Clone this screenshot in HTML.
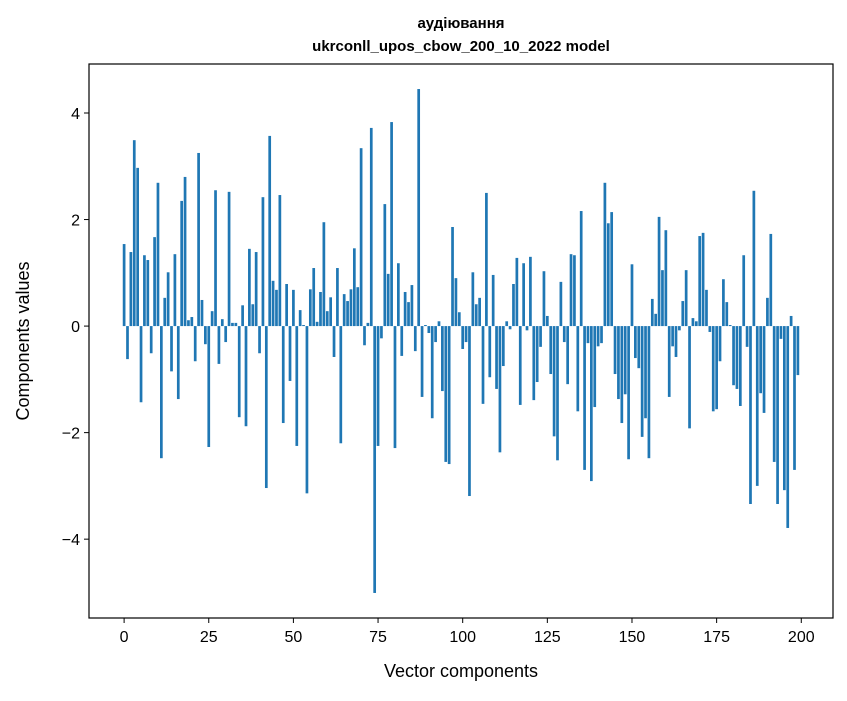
<!DOCTYPE html>
<html><head><meta charset="utf-8"><style>
body{margin:0;background:#fff;font-family:"Liberation Sans","DejaVu Sans",sans-serif;}
svg text{font-family:"Liberation Sans","DejaVu Sans",sans-serif;}
</style></head><body>
<svg width="847" height="696" viewBox="0 0 847 696" xmlns="http://www.w3.org/2000/svg">
<rect width="847" height="696" fill="#fff"/>
<text x="461" y="28" text-anchor="middle" font-size="15" font-weight="bold">аудіювання</text>
<text x="461" y="51" text-anchor="middle" font-size="15" font-weight="bold">ukrconll_upos_cbow_200_10_2022 model</text>
<g id="bars"></g>
<g id="axes"></g>
<text x="461" y="677" text-anchor="middle" font-size="18">Vector components</text>
<text transform="translate(29,341) rotate(-90)" text-anchor="middle" font-size="18">Components values</text>
</svg>
<script>
const values = [1.54,-0.62,1.39,3.49,2.97,-1.43,1.33,1.24,-0.51,1.67,2.69,-2.48,0.53,1.01,-0.85,1.35,-1.37,2.35,2.80,0.11,0.17,-0.66,3.25,0.49,-0.34,-2.27,0.28,2.55,-0.71,0.13,-0.30,2.52,0.06,0.06,-1.71,0.39,-1.88,1.45,0.41,1.39,-0.51,2.42,-3.04,3.57,0.85,0.68,2.46,-1.82,0.79,-1.03,0.68,-2.25,0.30,0.02,-3.14,0.69,1.09,0.08,0.64,1.95,0.28,0.54,-0.58,1.09,-2.20,0.60,0.47,0.69,1.46,0.73,3.34,-0.36,0.06,3.72,-5.01,-2.25,-0.23,2.29,0.98,3.83,-2.29,1.18,-0.56,0.64,0.45,0.77,-0.47,4.45,-1.33,0.02,-0.13,-1.73,-0.30,0.09,-1.22,-2.55,-2.59,1.86,0.90,0.26,-0.43,-0.30,-3.19,1.01,0.41,0.53,-1.46,2.50,-0.96,0.96,-1.18,-2.37,-0.75,0.09,-0.06,0.79,1.28,-1.48,1.18,-0.08,1.30,-1.39,-1.05,-0.39,1.03,0.19,-0.90,-2.07,-2.52,0.83,-0.30,-1.09,1.35,1.33,-1.60,2.16,-2.70,-0.32,-2.91,-1.52,-0.38,-0.32,2.69,1.93,2.14,-0.90,-1.37,-1.82,-1.28,-2.50,1.16,-0.60,-0.79,-2.08,-1.73,-2.48,0.51,0.23,2.05,1.05,1.80,-1.33,-0.38,-0.58,-0.08,0.47,1.05,-1.92,0.15,0.09,1.69,1.75,0.68,-0.11,-1.60,-1.56,-0.66,0.88,0.45,0.02,-1.11,-1.18,-1.50,1.33,-0.39,-3.34,2.54,-3.00,-1.26,-1.63,0.53,1.73,-2.55,-3.34,-0.24,-3.08,-3.79,0.19,-2.70,-0.92];
const xTicks = [0,25,50,75,100,125,150,175,200];
const yTicks = [-4,-2,0,2,4];
const yTickLabels = ["\u22124","\u22122","0","2","4"];
const L=89,R=833,T=64,B=618;
const xMin=-10.37,xMax=209.37,yMin=-5.48,yMax=4.92;
const xs=v=>L+(v-xMin)/(xMax-xMin)*(R-L);
const ys=v=>B-(v-yMin)/(yMax-yMin)*(B-T);
const NS="http://www.w3.org/2000/svg";
const bars=document.getElementById('bars');
const bw=xs(0.8)-xs(0);
values.forEach((v,i)=>{
  const r=document.createElementNS(NS,'rect');
  const y0=ys(Math.max(v,0)), y1=ys(Math.min(v,0));
  r.setAttribute('x',xs(i)-bw/2);
  r.setAttribute('y',y0);
  r.setAttribute('width',bw);
  r.setAttribute('height',Math.max(y1-y0,0.3));
  r.setAttribute('fill','#1f77b4');
  
  
  bars.appendChild(r);
});
const ax=document.getElementById('axes');
const fr=document.createElementNS(NS,'rect');
fr.setAttribute('x',L);fr.setAttribute('y',T);fr.setAttribute('width',R-L);fr.setAttribute('height',B-T);
fr.setAttribute('fill','none');fr.setAttribute('stroke','#000');fr.setAttribute('stroke-width','1.2');


ax.appendChild(fr);
xTicks.forEach(t=>{
  const x=xs(t);
  const l=document.createElementNS(NS,'line');
  l.setAttribute('x1',x);l.setAttribute('x2',x);l.setAttribute('y1',B);l.setAttribute('y2',B+5);l.setAttribute('stroke','#000');
  
  
  ax.appendChild(l);
  const tx=document.createElementNS(NS,'text');
  tx.setAttribute('x',x);tx.setAttribute('y',B+24);tx.setAttribute('text-anchor','middle');tx.setAttribute('font-size','16');
  tx.textContent=t;
  
  
  ax.appendChild(tx);
});
yTicks.forEach((t,i)=>{
  const y=ys(t);
  const l=document.createElementNS(NS,'line');
  l.setAttribute('x1',L-5);l.setAttribute('x2',L);l.setAttribute('y1',y);l.setAttribute('y2',y);l.setAttribute('stroke','#000');
  
  
  ax.appendChild(l);
  const tx=document.createElementNS(NS,'text');
  tx.setAttribute('x',L-9);tx.setAttribute('y',y+6);tx.setAttribute('text-anchor','end');tx.setAttribute('font-size','16');
  tx.textContent=yTickLabels[i];
  
  
  ax.appendChild(tx);
});
</script>
</body></html>
